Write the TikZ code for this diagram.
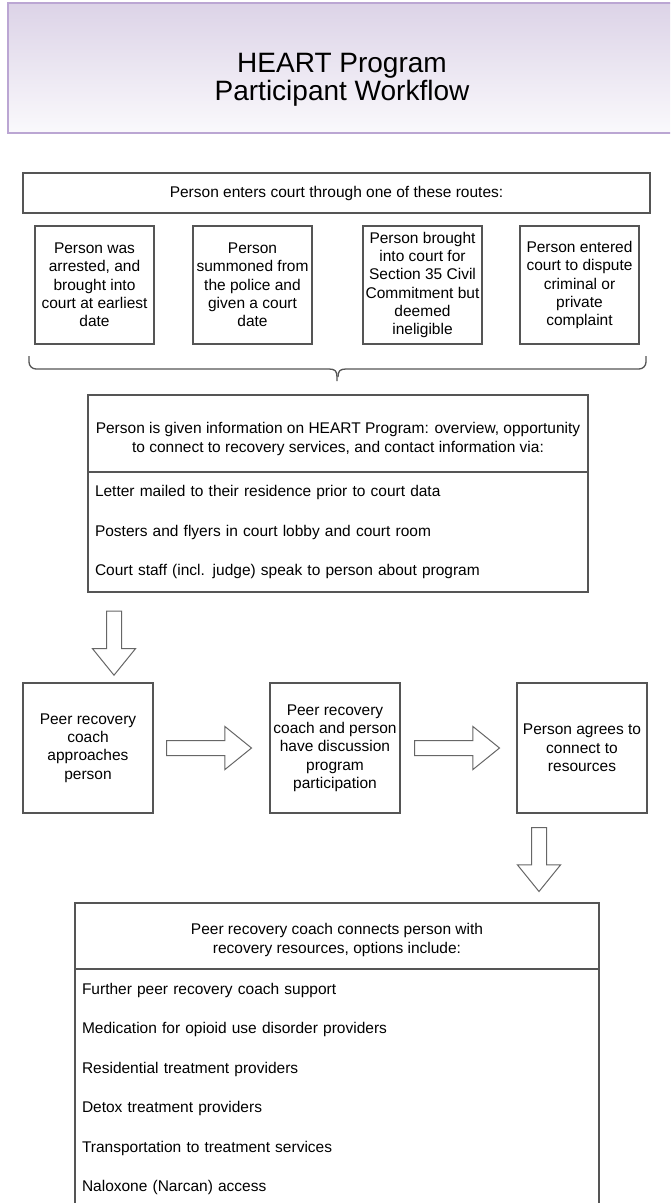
\documentclass[tikz,border=0pt]{standalone}
\usepackage{fontspec}
\setmainfont{Liberation Sans}
\usetikzlibrary{positioning, shapes.arrows}

\definecolor{boxline}{HTML}{555555}
\definecolor{arrowline}{HTML}{666666}
\definecolor{titleline}{HTML}{BBA6D3}
\definecolor{titletop}{HTML}{DCD3E7}
\definecolor{titlebottom}{HTML}{FAF9FC}

\begin{document}
\begin{tikzpicture}[
    x=1pt, y=-1pt,
    node distance=39pt,
    titlebox/.style={
        rectangle,
        draw=titleline,
        line width=1.5pt,
        top color=titletop,
        bottom color=titlebottom,
        align=center,
        outer sep=0pt,
        minimum width=668pt,
        minimum height=130pt,
        text height=70pt,
        text depth=5pt,
        font=\fontsize{28}{28.5}\selectfont
    },
    box/.style={
        rectangle,
        draw=boxline,
        line width=1.3pt,
        align=center,
        outer sep=0pt,
        inner sep=2pt,
        font=\fontsize{15.5}{18.3}\selectfont
    },
    route/.style={
        box,
        minimum width=119pt,
        minimum height=118pt
    },
    stepbox/.style={
        box,
        minimum width=130pt,
        minimum height=130pt
    },
    headbox/.style={
        box,
        text depth=3pt,
        font=\fontsize{15.5}{19}\selectfont
    },
    listbox/.style={
        box,
        align=left,
        inner xsep=7pt,
        font=\fontsize{15.5}{39.5}\selectfont
    },
    blockarrow/.style={
        single arrow,
        draw=arrowline,
        fill=white,
        line width=1pt,
        inner sep=7pt,
        single arrow head extend=14pt,
        single arrow tip angle=78
    },
    bracestroke/.style={
        draw=boxline,
        line width=1.3pt
    }
]

\useasboundingbox (0,0) rectangle (670,1203);
\clip (0,0) rectangle (670,1203);

% Title
\node[titlebox] (title) at (342,68) {HEART Program\\Participant Workflow};

% Routes into court
\node[box, minimum width=627pt, minimum height=40pt] (enter) at (336.5,193)
    {Person enters court through one of these routes:};

\node[route] (r1) at (94.5,285) {
    Person was\\arrested, and\\brought into\\court at earliest\\date
};
\node[route, right=of r1] (r2) {
    Person\\summoned from\\the police and\\given a court\\date
};
\node[route, right=51pt of r2] (r3) {
    Person brought\\into court for\\Section 35 Civil\\Commitment but\\deemed\\ineligible
};
\node[route, right=38pt of r3] (r4) {
    Person entered\\court to dispute\\criminal or\\private\\complaint
};

% Brace under the routes
\coordinate (braceL) at ([shift={(-6,12)}]r1.south west);
\coordinate (braceR) at ([shift={(7,12)}]r4.south east);
\draw[bracestroke] (braceL) -- ++(0,6) arc[start angle=180, end angle=90, radius=7]
    -- ++(293,0) .. controls +(6,0) and +(0,-6) .. ++(8,8) -- ++(0,4);
\draw[bracestroke] (braceR) -- ++(0,6) arc[start angle=0, end angle=90, radius=7]
    -- ++(-293,0) .. controls +(-6,0) and +(0,-6) .. ++(-8,8);

% Information box
\node[headbox, text height=41pt, minimum width=500pt, minimum height=77pt]
    (infohead) at (338,433.5) {
    Person is given information on HEART Program: overview, opportunity\\
    to connect to recovery services, and contact information via:
};
\node[listbox, text width=486pt, minimum width=500pt, minimum height=120pt,
      below=0pt of infohead] (infolist) {
    Letter mailed to their residence prior to court data\\
    Posters and flyers in court lobby and court room\\
    Court staff (incl. judge) speak to person about program
};

% Peer recovery steps
\node[stepbox] (stepA) at (88,748) {Peer recovery\\coach\\approaches\\person};
\node[stepbox, right=117pt of stepA] (stepB) {
    Peer recovery\\coach and person\\have discussion\\program\\participation
};
\node[stepbox, right=117pt of stepB] (stepC) {Person agrees to\\connect to\\resources};

% Resources box
\node[headbox, text height=38pt, minimum width=524pt, minimum height=66pt]
    (reshead) at (337,936) {
    Peer recovery coach connects person with\\
    recovery resources, options include:
};
\node[listbox, text width=510pt, minimum width=524pt, minimum height=240pt,
      below=0pt of reshead] (reslist) {
    Further peer recovery coach support\\
    Medication for opioid use disorder providers\\
    Residential treatment providers\\
    Detox treatment providers\\
    Transportation to treatment services\\
    Naloxone (Narcan) access
};

% Block arrows
\node[blockarrow, shape border rotate=270, minimum height=64pt, anchor=tip]
    (toA) at ([xshift=26pt, yshift=7pt]stepA.north) {};
\node[blockarrow, minimum height=85pt, anchor=tail]
    (toB) at ([xshift=13pt]stepA.east) {};
\node[blockarrow, minimum height=85pt, anchor=tail]
    (toC) at ([xshift=14pt]stepB.east) {};
\node[blockarrow, shape border rotate=270, minimum height=64pt, anchor=tail]
    (tores) at ([xshift=-43pt, yshift=-14pt]stepC.south) {};

\end{tikzpicture}
\end{document}
